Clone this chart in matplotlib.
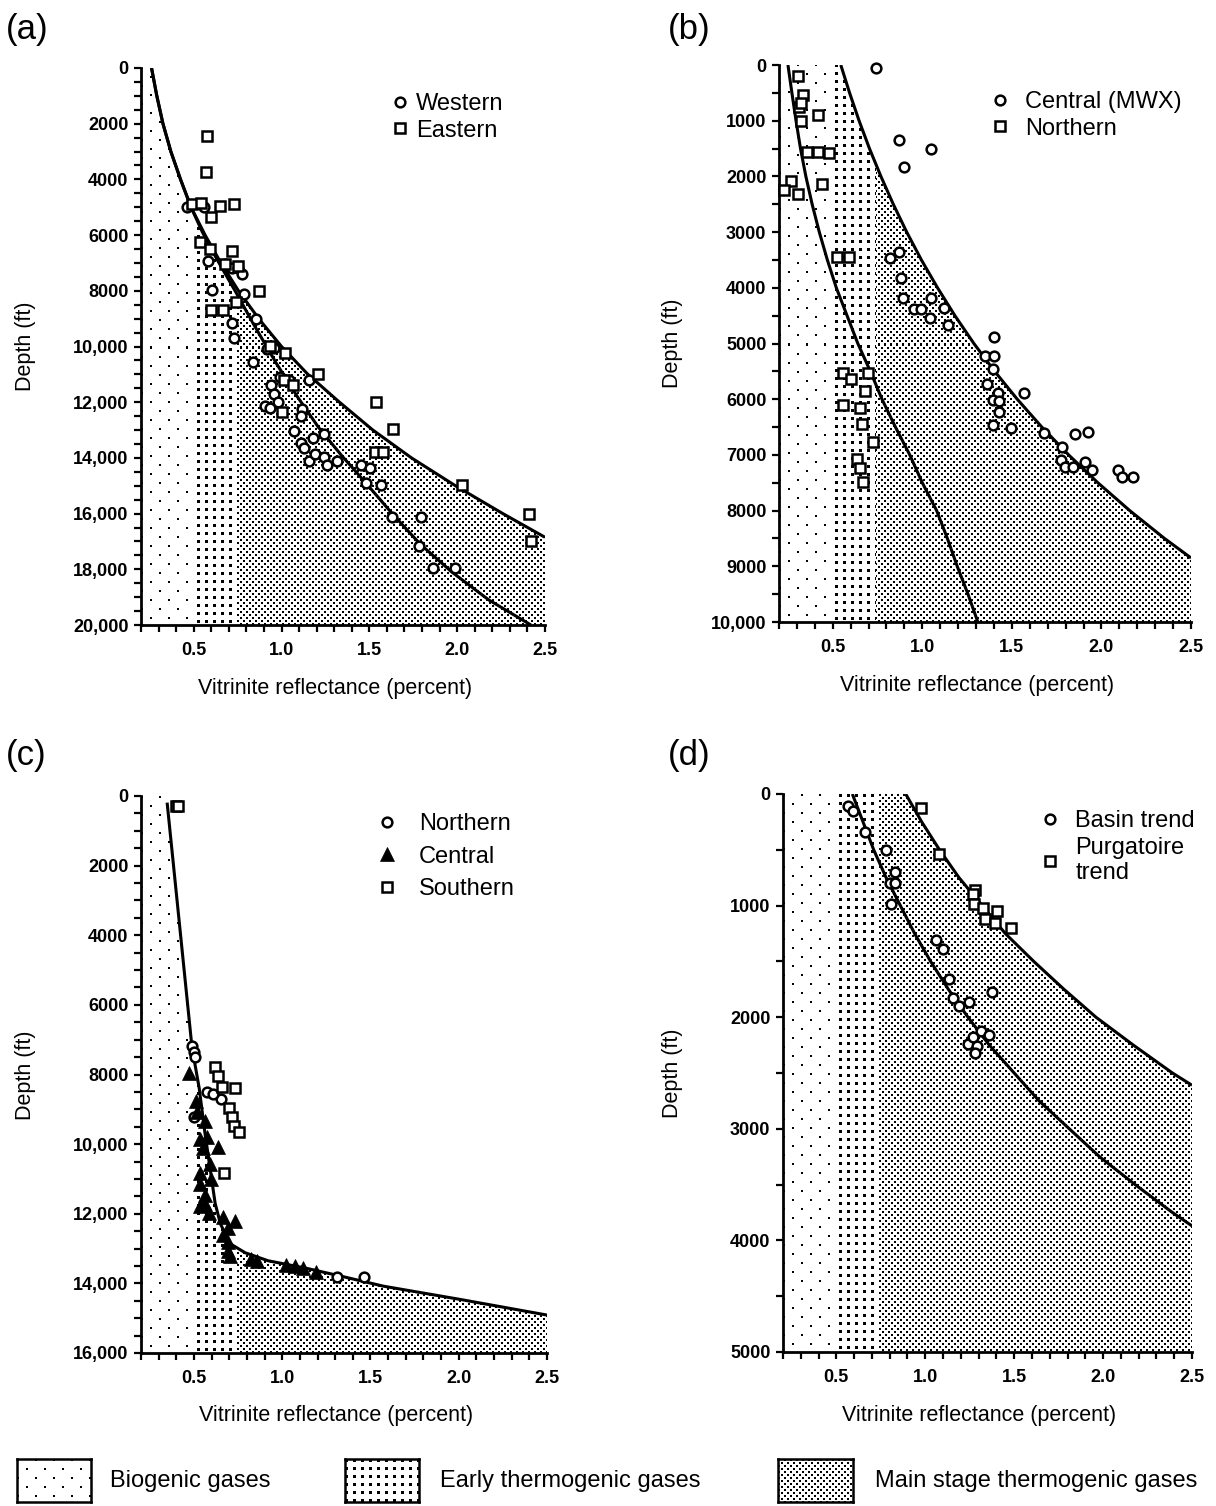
import numpy as np
import matplotlib
matplotlib.use('Agg')
import matplotlib.pyplot as plt
from matplotlib.patches import Polygon
from matplotlib.ticker import MultipleLocator, FuncFormatter

plt.rcParams['font.family'] = ['Liberation Sans', 'DejaVu Sans']

W, H = 1216, 1506
XMIN, XMAX = 0.2, 2.5
BIO_EDGE, EARLY_EDGE = 0.5, 0.74

# ---------------- panel (a) ----------------
a_west_ro = [0.46, 0.56, 0.58, 0.605, 0.68, 0.72, 0.753, 0.775, 0.786, 0.716, 0.727, 0.857,
             0.84, 0.92, 0.96, 0.94, 0.955, 0.98, 0.907, 0.937, 1.07, 1.115, 1.11, 1.155,
             1.11, 1.13, 1.155, 1.18, 1.19, 1.24, 1.24, 1.26, 1.317, 1.454, 1.506, 1.48,
             1.567, 1.627, 1.794, 1.784, 1.86, 1.99, 0.99, 1.04]
a_west_depth = [5000, 5000, 6940, 7980, 7050, 7180, 7180, 7400, 8100, 9170, 9700, 9010,
                10550, 10100, 10050, 11400, 11700, 11975, 12150, 12200, 13030, 12260, 12500, 11190,
                13470, 13630, 14100, 13300, 13870, 13140, 13950, 14270, 14100, 14270, 14380, 14900,
                14990, 16110, 16110, 17180, 17950, 17950, 11100, 11200]
a_east_ro = [0.574, 0.568, 0.493, 0.543, 0.60, 0.651, 0.731, 0.536, 0.59, 0.72, 0.677, 0.753,
             0.601, 0.666, 0.738, 0.872, 0.937, 1.018, 1.013, 1.068, 1.003, 1.209, 1.54, 1.632,
             1.534, 1.578, 2.027, 2.408, 2.419]
a_east_depth = [2450, 3730, 4890, 4840, 5340, 4970, 4890, 6250, 6490, 6570, 7020, 7100,
                8700, 8700, 8420, 8020, 9990, 10230, 11220, 11380, 12340, 10980, 11990, 12980,
                13790, 13790, 14990, 16030, 16990]
a_outer_ro = [0.26, 0.29, 0.325, 0.37, 0.425, 0.485, 0.565, 0.655, 0.755, 0.87, 1.00, 1.15, 1.33,
              1.52, 1.74, 1.99, 2.26, 2.5]
a_outer_depth = [0, 1000, 2000, 3000, 4000, 5000, 6000, 7000, 8000, 9000, 10000, 11000, 12000,
                 13000, 14000, 15000, 16000, 16850]
a_inner_ro = [0.26, 0.29, 0.325, 0.37, 0.425, 0.485, 0.55, 0.635, 0.74, 0.85, 0.97, 1.09, 1.21,
              1.34, 1.48, 1.63, 1.79, 1.97, 2.18, 2.42]
a_inner_depth = [0, 1000, 2000, 3000, 4000, 5000, 5900, 6900, 8050, 9300, 10600, 11800, 12900,
                 13900, 14900, 16000, 17100, 18100, 19100, 20000]

# ---------------- panel (b) ----------------
b_central_ro = [0.739, 0.868, 1.051, 0.897, 0.868, 0.819, 0.882, 0.895, 1.051, 1.12, 0.953, 0.991,
                1.042, 1.141, 1.40, 1.348, 1.40, 1.393, 1.36, 1.42, 1.393, 1.43, 1.43, 1.567,
                1.397, 1.493, 1.679, 1.779, 1.85, 1.924, 1.772, 1.795, 1.84, 1.91, 1.95, 2.09,
                2.116, 2.177]
b_central_depth = [50, 1350, 1510, 1840, 3350, 3470, 3820, 4190, 4190, 4370, 4380, 4380,
                   4540, 4660, 4890, 5220, 5220, 5460, 5730, 5890, 6010, 6030, 6230, 5890,
                   6470, 6510, 6610, 6850, 6630, 6590, 7090, 7210, 7210, 7130, 7270, 7270,
                   7390, 7390]
b_north_ro = [0.306, 0.333, 0.31, 0.325, 0.417, 0.321, 0.355, 0.417, 0.478, 0.266, 0.23, 0.304,
              0.44, 0.522, 0.589, 0.56, 0.60, 0.696, 0.679, 0.556, 0.65, 0.663, 0.723, 0.634,
              0.65, 0.667]
b_north_depth = [200, 545, 760, 680, 900, 1000, 1560, 1560, 1580, 2080, 2240, 2320,
                 2140, 3450, 3450, 5530, 5630, 5530, 5850, 6110, 6150, 6450, 6770, 7070,
                 7240, 7490]
b_outer_ro = [0.545, 0.594, 0.647, 0.705, 0.769, 0.838, 0.913, 0.995, 1.085, 1.182, 1.288,
              1.404, 1.530, 1.667, 1.817, 1.980, 2.158, 2.352, 2.5]
b_outer_depth = [0, 500, 1000, 1500, 2000, 2500, 3000, 3500, 4000, 4500, 5000,
                 5500, 6000, 6500, 7000, 7500, 8000, 8500, 8850]
b_inner_ro = [0.25, 0.272, 0.295, 0.32, 0.35, 0.385, 0.425, 0.47, 0.52, 0.58, 0.64, 0.71,
              0.775, 0.85, 0.93, 1.0, 1.08, 1.14, 1.195, 1.255, 1.31]
b_inner_depth = [0, 500, 1000, 1500, 2000, 2500, 3000, 3500, 4000, 4500, 5000, 5500,
                 6000, 6500, 7000, 7500, 8000, 8500, 9000, 9500, 10000]

# ---------------- panel (c) ----------------
c_north_ro = [0.489, 0.50, 0.506, 0.50, 0.575, 0.651, 0.61, 1.313, 1.465]
c_north_depth = [7170, 7350, 7510, 9220, 8510, 8700, 8550, 13820, 13820]
c_central_ro = [0.473, 0.51, 0.52, 0.564, 0.532, 0.575, 0.554, 0.634, 0.593, 0.532, 0.532, 0.597,
                0.564, 0.532, 0.564, 0.586, 0.662, 0.734, 0.695, 0.662, 0.695, 0.695, 0.705, 0.825,
                0.857, 1.02, 1.074, 1.118, 1.193]
c_central_depth = [7970, 8770, 9090, 9340, 9860, 9790, 10110, 10090, 10560, 10820, 11140, 11010,
                   11460, 11780, 11710, 11970, 12100, 12200, 12420, 12610, 12800, 13060, 13220, 13290,
                   13350, 13480, 13500, 13570, 13660]
c_south_ro = [0.40, 0.41, 0.619, 0.634, 0.658, 0.731, 0.70, 0.716, 0.727, 0.753, 0.673]
c_south_depth = [300, 280, 7780, 8030, 8360, 8380, 8960, 9220, 9470, 9660, 10820]
c_trend_ro = [0.348, 0.489, 0.53, 0.56, 0.60, 0.62, 0.65, 0.705, 0.79, 0.92, 1.14, 1.356, 1.573, 2.007, 2.5]
c_trend_depth = [190, 7230, 8400, 9600, 11000, 11700, 12290, 12860, 13120, 13350, 13570, 13820, 14080, 14460, 14910]

# ---------------- panel (d) ----------------
d_basin_ro = [0.568, 0.595, 0.661, 0.779, 0.828, 0.80, 0.828, 0.805, 1.06, 1.098, 1.133, 1.156,
              1.187, 1.244, 1.375, 1.315, 1.36, 1.238, 1.27, 1.293, 1.28]
d_basin_depth = [108, 150, 340, 500, 700, 800, 800, 990, 1310, 1390, 1660, 1830,
                 1900, 1860, 1770, 2120, 2160, 2240, 2180, 2260, 2320]
d_purg_ro = [0.976, 1.076, 1.282, 1.266, 1.275, 1.326, 1.337, 1.404, 1.393, 1.482]
d_purg_depth = [128, 540, 860, 900, 990, 1020, 1120, 1050, 1160, 1200]
d_outer_ro = [0.89, 0.98, 1.08, 1.19, 1.32, 1.45, 1.61, 1.78, 1.96, 2.17, 2.39, 2.5]
d_outer_depth = [0, 250, 500, 750, 1000, 1250, 1500, 1750, 2000, 2250, 2500, 2610]
d_inner_ro = [0.59, 0.65, 0.71, 0.78, 0.86, 0.94, 1.03, 1.13, 1.24, 1.36, 1.50, 1.64, 1.81,
              1.98, 2.18, 2.39, 2.5]
d_inner_depth = [0, 250, 500, 750, 1000, 1250, 1500, 1750, 2000, 2250, 2500, 2750, 3000,
                 3250, 3500, 3750, 3870]

x_ticklabels = ['0.5', '1.0', '1.5', '2.0', '2.5']
legend_names = ['Biogenic gases', 'Early thermogenic gases', 'Main stage thermogenic gases']


def fx(px):
    return px / W


def fy(py):
    return 1 - py / H


def patterns(h, w):
    R, C = np.meshgrid(np.arange(h), np.arange(w), indexing='ij')
    bio = ((R % 18 < 2) & (C % 18 < 2)) | (((R + 9) % 18 < 2) & ((C + 9) % 18 < 2))
    early = (R % 8 < 3) & (C % 8 < 3)
    main = ((R % 6 < 2) & (C % 6 < 2)) | (((R + 3) % 6 < 2) & ((C + 3) % 6 < 2))
    return bio, early, main


def to_rgba(mask):
    img = np.zeros(mask.shape + (4,))
    img[..., 3] = mask
    return img


fig = plt.figure(figsize=(W / 100, H / 100), dpi=100)


def make_panel(box, ymax, major, outer_x, outer_y):
    x0, y0, x1, y1 = box
    ax = fig.add_axes([fx(x0), fy(y1), fx(x1 - x0), (y1 - y0) / H])
    wpx, hpx = x1 - x0, y1 - y0
    bio, early, main = patterns(hpx, wpx)
    xs = XMIN + (np.arange(wpx) + 0.5) / wpx * (XMAX - XMIN)
    X = np.broadcast_to(xs[None, :], (hpx, wpx))
    mask = np.where(X < BIO_EDGE, bio, np.where(X < EARLY_EDGE, early, main))
    im = ax.imshow(to_rgba(mask.astype(float)), extent=(XMIN, XMAX, ymax, 0),
                   aspect='auto', interpolation='nearest', zorder=1)
    verts = [(XMIN, 0), (outer_x[0], 0)] + list(zip(outer_x, outer_y)) + \
            [(XMAX, outer_y[-1]), (XMAX, ymax), (XMIN, ymax)]
    im.set_clip_path(Polygon(verts, closed=True, transform=ax.transData))

    ax.set_xlim(XMIN, XMAX)
    ax.set_ylim(ymax, 0)
    for s in ['top', 'right']:
        ax.spines[s].set_visible(False)
    for s in ['left', 'bottom']:
        ax.spines[s].set_linewidth(2.0)
    ax.set_xticks([0.5, 1.0, 1.5, 2.0, 2.5])
    ax.set_xticklabels(x_ticklabels)
    ax.xaxis.set_minor_locator(MultipleLocator(0.1))
    ax.yaxis.set_major_locator(MultipleLocator(major))
    ax.yaxis.set_minor_locator(MultipleLocator(500))
    ax.yaxis.set_major_formatter(FuncFormatter(
        lambda v, p: f'{int(v):,}' if v >= 10000 else f'{int(v)}'))
    ax.tick_params(which='both', direction='out', length=5, width=1.6)
    ax.tick_params(axis='x', pad=7)
    ax.tick_params(axis='y', pad=4)
    for lab in ax.get_xticklabels() + ax.get_yticklabels():
        lab.set_fontsize(13)
        lab.set_fontweight('bold')
    ax.set_facecolor('none')

    # axis title
    fig.text(fx(x0 + 0.48 * wpx), fy(y1 + 63), 'Vitrinite reflectance (percent)',
             ha='center', va='center', fontsize=15.5)
    return ax


def trend(ax, xs, ys):
    ax.plot(xs, ys, color='black', lw=2.2, zorder=3, solid_capstyle='butt',
            solid_joinstyle='round')


def circles(ax, xs, ys, label):
    return ax.plot(xs, ys, 'o', ms=7, mfc='white', mec='black', mew=1.8,
                   zorder=4, label=label, clip_on=False)[0]


def squares(ax, xs, ys, label):
    return ax.plot(xs, ys, 's', ms=7, mfc='white', mec='black', mew=1.8,
                   zorder=4, label=label, clip_on=False)[0]


def triangles(ax, xs, ys, label):
    return ax.plot(xs, ys, '^', ms=10, mfc='black', mec='black', mew=0.5,
                   zorder=5, label=label, clip_on=False)[0]


def panel_legend(ax, handles, left, top, textpad, spacing):
    ax.legend(handles=handles, loc='upper left', bbox_to_anchor=(fx(left), fy(top)),
              bbox_transform=fig.transFigure, frameon=False, fontsize=17,
              borderpad=0, borderaxespad=0, handlelength=0.55,
              handletextpad=textpad, labelspacing=spacing)


# (a)
ax_a = make_panel((141, 68, 545, 625), 20000, 2000, a_outer_ro, a_outer_depth)
trend(ax_a, a_outer_ro, a_outer_depth)
trend(ax_a, a_inner_ro, a_inner_depth)
h1 = circles(ax_a, a_west_ro, a_west_depth, 'Western')
h2 = squares(ax_a, a_east_ro, a_east_depth, 'Eastern')
panel_legend(ax_a, [h1, h2], 394, 93, 0.38, 0.2)
fig.text(fx(25), fy(346), 'Depth (ft)', rotation=90, ha='center', va='center', fontsize=15.5)

# (b)
ax_b = make_panel((779, 65, 1191, 622), 10000, 1000, b_outer_ro, b_outer_depth)
trend(ax_b, b_outer_ro, b_outer_depth)
trend(ax_b, b_inner_ro, b_inner_depth)
h1 = circles(ax_b, b_central_ro, b_central_depth, 'Central (MWX)')
h2 = squares(ax_b, b_north_ro, b_north_depth, 'Northern')
panel_legend(ax_b, [h1, h2], 994, 91, 0.78, 0.2)
fig.text(fx(672), fy(343), 'Depth (ft)', rotation=90, ha='center', va='center', fontsize=15.5)

# (c)
ax_c = make_panel((141, 796, 547, 1353), 16000, 2000, c_trend_ro, c_trend_depth)
trend(ax_c, c_trend_ro, c_trend_depth)
h1 = circles(ax_c, c_north_ro, c_north_depth, 'Northern')
h2 = triangles(ax_c, c_central_ro, c_central_depth, 'Central')
h3 = squares(ax_c, c_south_ro, c_south_depth, 'Southern')
panel_legend(ax_c, [h1, h2, h3], 381, 813, 1.05, 0.45)
fig.text(fx(25), fy(1075), 'Depth (ft)', rotation=90, ha='center', va='center', fontsize=15.5)

# (d)
ax_d = make_panel((783, 794, 1192, 1352), 5000, 1000, d_outer_ro, d_outer_depth)
trend(ax_d, d_outer_ro, d_outer_depth)
trend(ax_d, d_inner_ro, d_inner_depth)
h1 = circles(ax_d, d_basin_ro, d_basin_depth, 'Basin trend')
h2 = squares(ax_d, d_purg_ro, d_purg_depth, 'Purgatoire\ntrend')
panel_legend(ax_d, [h1, h2], 1044, 810, 0.78, 0.2)
fig.text(fx(672), fy(1073), 'Depth (ft)', rotation=90, ha='center', va='center', fontsize=15.5)

# panel letters
for letter, (px, py) in zip(['(a)', '(b)', '(c)', '(d)'],
                            [(6, 30), (668, 30), (6, 755), (668, 755)]):
    fig.text(fx(px), fy(py), letter, ha='left', va='center', fontsize=25)

# bottom key
key_boxes = [(17, 1459, 91, 1502), (345, 1459, 419, 1502), (778, 1459, 853, 1502)]
key_text_x = [110, 440, 875]
for i, (name, (x0, y0, x1, y1), tx) in enumerate(zip(legend_names, key_boxes, key_text_x)):
    kax = fig.add_axes([fx(x0), fy(y1), fx(x1 - x0), (y1 - y0) / H])
    pats = patterns(y1 - y0, x1 - x0)
    kax.imshow(to_rgba(pats[i].astype(float)), aspect='auto', interpolation='nearest')
    kax.set_xticks([])
    kax.set_yticks([])
    for s in kax.spines.values():
        s.set_linewidth(1.8)
    fig.text(fx(tx), fy((y0 + y1) / 2), name, ha='left', va='center', fontsize=17)

fig.savefig('out.png', dpi=100)
